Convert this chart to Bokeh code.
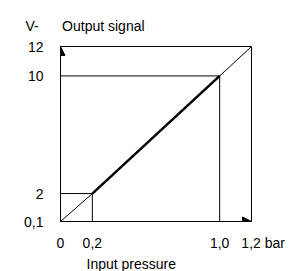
from bokeh.plotting import figure
from bokeh.models import (Range1d, FixedTicker, Arrow, NormalHead, Title)
from bokeh.embed import file_html
from bokeh.resources import INLINE

# ---- data ----
x_ticks = [0, 0.2, 1.0, 1.2]
x_tick_labels = ["0", "0,2", "1,0", "1,2"]
y_ticks = [0.1, 2, 10, 12]
y_tick_labels = ["0,1", "2", "10", "12"]

pressure = [0, 0.2, 1.0, 1.2]      # bar
signal = [0.1, 2, 10, 12]          # V
range_pressure = [0.2, 1.0]        # operating range (bold segment)
range_signal = [2, 10]

x_unit = "bar"
y_unit = "V-"
x_title = "Input pressure"
y_title = "Output signal"

FONT = "Liberation Sans"
FS = "14px"
NB = "\u00a0"

p = figure(width=291, height=271, output_backend="svg", toolbar_location=None,
           x_range=Range1d(pressure[0], pressure[-1]),
           y_range=Range1d(signal[0], signal[-1]),
           min_border_left=60, min_border_right=40,
           min_border_top=46, min_border_bottom=47)
p.grid.visible = False
p.outline_line_color = "black"
p.outline_line_width = 1
p.background_fill_color = "white"
p.border_fill_color = "white"

# axes
labels_x = list(x_tick_labels)
labels_x[-1] = NB * 6 + labels_x[-1] + NB + x_unit
for ax, ticks, labels in ((p.xaxis[0], x_ticks, labels_x),
                          (p.yaxis[0], y_ticks, y_tick_labels)):
    ax.ticker = FixedTicker(ticks=ticks)
    ax.major_label_overrides = {t: l for t, l in zip(ticks, labels)}
    ax.major_tick_in = 0
    ax.major_tick_out = 0
    ax.minor_tick_line_color = None
    ax.axis_line_color = "black"
    ax.major_label_text_font = FONT
    ax.major_label_text_font_size = FS
    ax.major_label_text_color = "black"
p.xaxis.major_label_standoff = 13
p.yaxis.major_label_standoff = 17

# guide lines at the operating-range limits
for xv, yv in zip(range_pressure, range_signal):
    p.segment(x0=pressure[0], y0=yv, x1=xv, y1=yv, line_color="black", line_width=1)
    p.segment(x0=xv, y0=signal[0], x1=xv, y1=yv, line_color="black", line_width=1)

# characteristic curve
p.line(pressure, signal, line_color="black", line_width=1)
p.line(range_pressure, range_signal, line_color="black", line_width=2.5)

# axis arrows
p.add_layout(Arrow(end=NormalHead(size=9, fill_color="black", line_color="black"),
                   x_start=pressure[0], y_start=signal[-1] - 1.0,
                   x_end=pressure[0], y_end=signal[-1],
                   line_color="black", line_width=1))
p.add_layout(Arrow(end=NormalHead(size=9, fill_color="black", line_color="black"),
                   x_start=pressure[-1] - 0.1, y_start=signal[0],
                   x_end=pressure[-1], y_end=signal[0],
                   line_color="black", line_width=1))

# axis titles
p.add_layout(Title(text=y_unit + NB * 6 + y_title, align="left", offset=-35,
                   standoff=26, text_font=FONT, text_font_size=FS,
                   text_font_style="normal", text_color="black"), "above")
p.add_layout(Title(text=x_title, align="left", offset=26, standoff=0,
                   text_font=FONT, text_font_size=FS,
                   text_font_style="normal", text_color="black"), "below")

open("out.html", "w").write(file_html(p, INLINE))
